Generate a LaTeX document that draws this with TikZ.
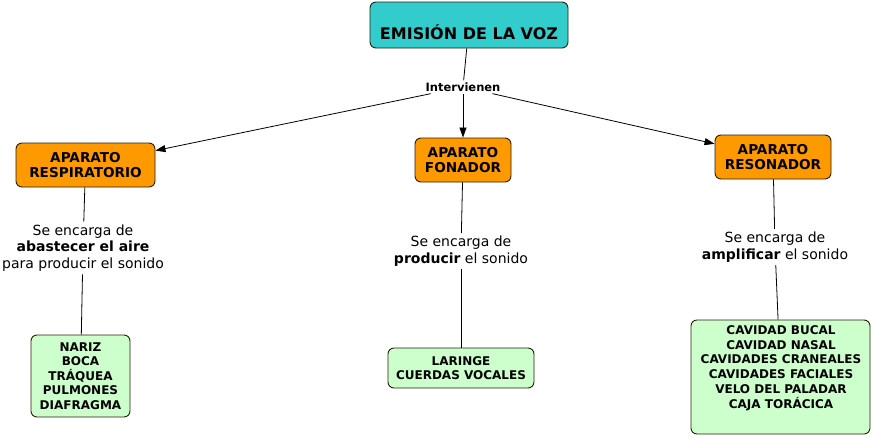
\documentclass[tikz,border=0pt]{standalone}
\usepackage{fontspec}
\setmainfont{DejaVu Sans}
\usetikzlibrary{arrows.meta}
\definecolor{teal1}{RGB}{51,204,204}
\definecolor{orange1}{RGB}{255,153,0}
\definecolor{green1}{RGB}{204,255,204}
\definecolor{bord}{RGB}{40,30,10}
\tikzset{
  box/.style={draw=bord, line width=0.9pt, rounded corners=6pt, align=center, inner sep=0pt},
  titlebox/.style={box, fill=teal1, font=\bfseries\fontsize{16}{19}\selectfont},
  orangebox/.style={box, fill=orange1, minimum height=44pt, font=\bfseries\fontsize{13.6}{15.8}\selectfont},
  greenbox/.style={box, fill=green1, font=\bfseries\fontsize{12}{14.5}\selectfont},
  desc/.style={align=center, inner sep=3pt, font=\fontsize{14}{16.5}\selectfont},
  linklabel/.style={inner sep=2pt, font=\bfseries\fontsize{11.5}{13}\selectfont},
  conn/.style={line width=0.8pt},
  arr/.style={conn, -{Triangle[length=10pt,width=7pt]}}
}
\begin{document}
\begin{tikzpicture}[x=1pt,y=-1pt]
\useasboundingbox (0,0) rectangle (873,437);
% title
\node[titlebox, minimum width=198pt, text height=28pt, text depth=0pt, inner ysep=9pt] (title) at (469,25) {EMISIÓN DE LA VOZ};
\node[linklabel] (interv) at (463,87) {Intervienen};
% orange boxes
\node[orangebox, minimum width=139pt] (resp) at (85.5,165) {APARATO\\RESPIRATORIO};
\node[orangebox, minimum width=96pt] (fon) at (463,160) {APARATO\\FONADOR};
\node[orangebox, minimum width=116pt] (reson) at (773,157) {APARATO\\RESONADOR};
% descriptions
\node[desc] (d1) at (83,248) {Se encarga de\\\textbf{abastecer el aire}\\para producir el sonido};
\node[desc] (d2) at (461,251) {Se encarga de\\\textbf{producir} el sonido};
\node[desc] (d3) at (775,247) {Se encarga de\\\textbf{amplificar} el sonido};
% green boxes
\node[greenbox, minimum width=99pt, minimum height=82pt] (g1) at (80.5,376) {NARIZ\\BOCA\\TRÁQUEA\\PULMONES\\DIAFRAGMA};
\node[greenbox, minimum width=146pt, minimum height=40pt] (g2) at (461,368) {LARINGE\\CUERDAS VOCALES};
\node[greenbox, minimum width=179pt, minimum height=114pt] (g3) at (780.5,377) {};
\node[align=center, inner sep=0pt, font=\bfseries\fontsize{12}{14.8}\selectfont] (g3t) at (781,368) {CAVIDAD BUCAL\\CAVIDAD NASAL\\CAVIDADES CRANEALES\\CAVIDADES FACIALES\\VELO DEL PALADAR\\CAJA TORÁCICA};
% connectors
\draw[conn] (title) -- (interv);
\draw[arr] (interv) -- (resp);
\draw[arr] (interv) -- (fon);
\draw[arr] (interv) -- (reson);
\draw[conn] (resp) -- (d1);
\draw[conn] (d1) -- (g1);
\draw[conn] (fon) -- (d2);
\draw[conn] (d2) -- (g2);
\draw[conn] (reson) -- (d3);
\draw[conn] (d3) -- (g3);
\end{tikzpicture}
\end{document}
